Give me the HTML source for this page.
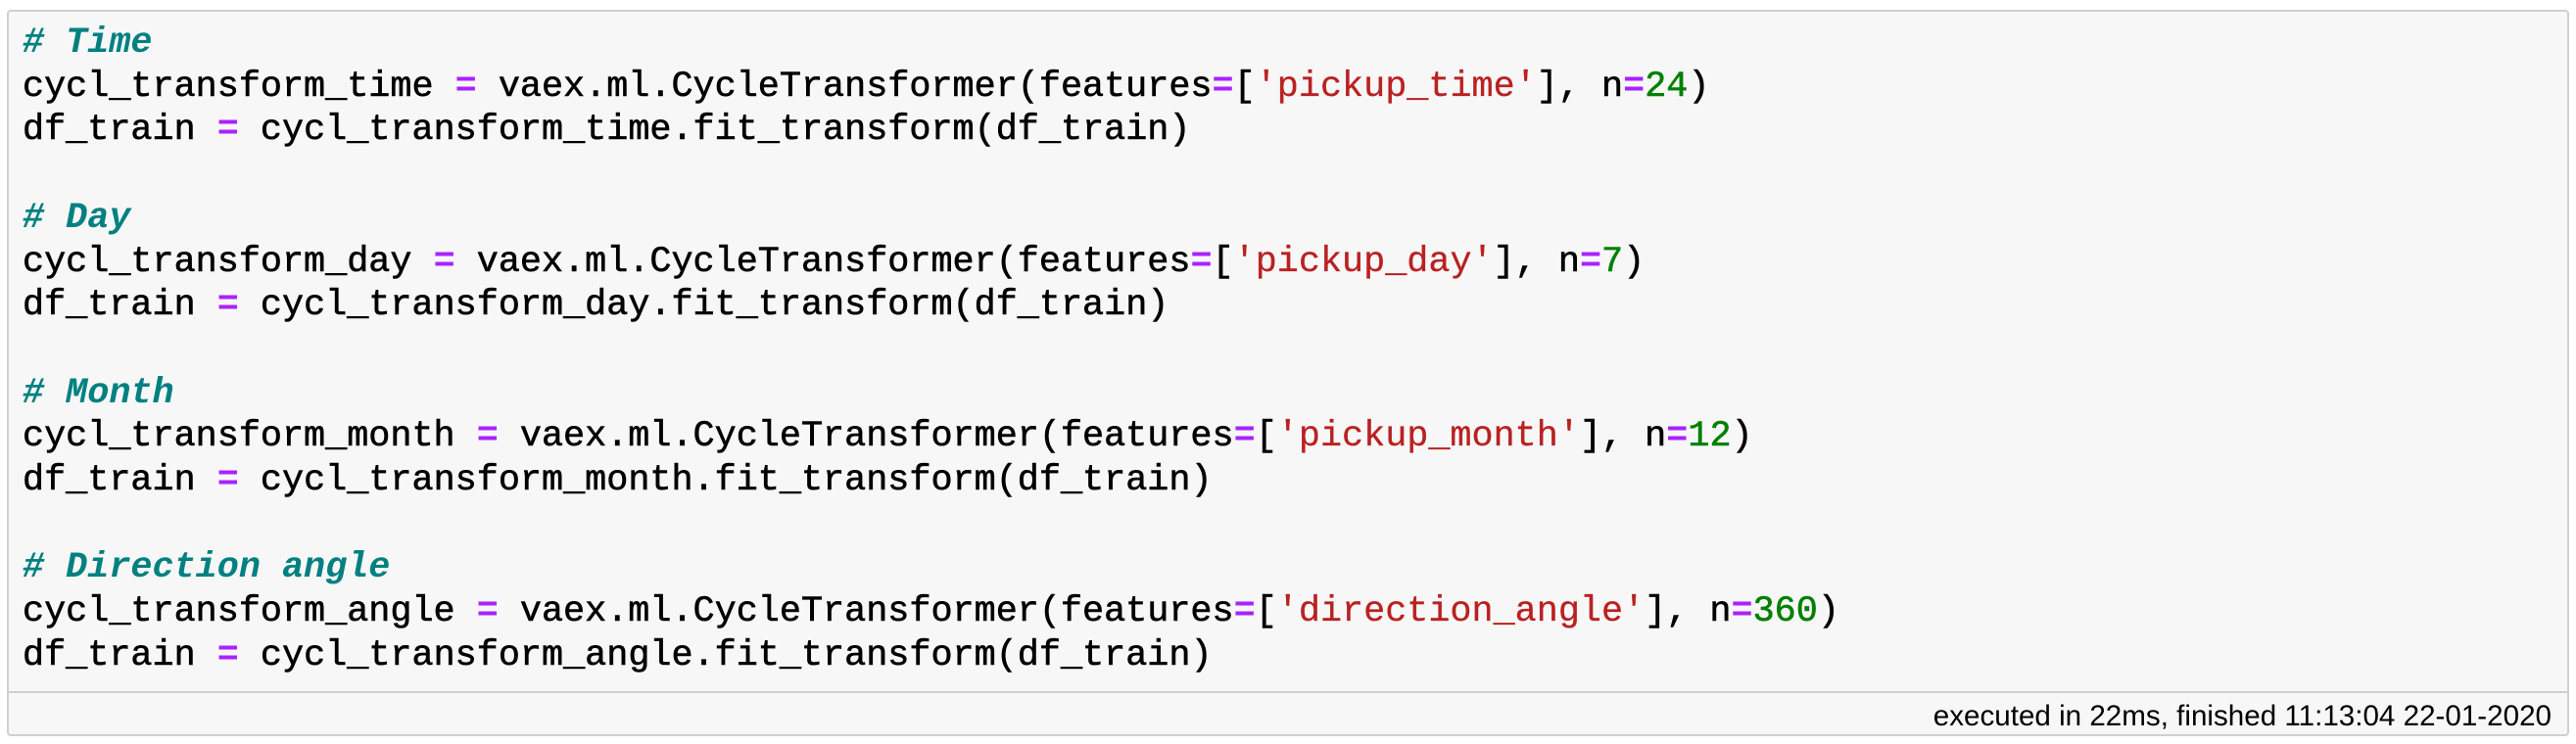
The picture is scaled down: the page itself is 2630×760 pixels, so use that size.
<!DOCTYPE html>
<html><head><style>
html,body{margin:0;padding:0;background:#fff;width:2630px;height:760px;overflow:hidden}
.box{position:absolute;left:7px;top:10px;width:2612px;height:738px;border:2px solid #cfcfcf;border-radius:4px;background:#f7f7f7}
pre{position:absolute;left:14px;top:10px;margin:0;font-family:"Liberation Mono",monospace;font-size:36.8px;line-height:44.7px;color:#000;font-weight:normal;-webkit-text-stroke:0.6px #000}
.c{color:#008080;font-style:italic;font-weight:bold;-webkit-text-stroke:0}
.o{color:#aa22ff;font-weight:bold;-webkit-text-stroke:0}
.s{color:#ba2121;-webkit-text-stroke:0.3px #ba2121}
.n{color:#008000;-webkit-text-stroke:0.6px #008000}
.sep{position:absolute;left:0;right:0;top:694px;border-top:2px solid #cfcfcf}
.foot{position:absolute;right:16px;top:703px;font-family:"Liberation Sans",sans-serif;font-size:29.6px;color:#000}
</style></head><body>
<div class="box">
<pre><span class="c"># Time</span>
cycl_transform_time <span class="o">=</span> vaex.ml.CycleTransformer(features<span class="o">=</span>[<span class="s">'pickup_time'</span>], n<span class="o">=</span><span class="n">24</span>)
df_train <span class="o">=</span> cycl_transform_time.fit_transform(df_train)

<span class="c"># Day</span>
cycl_transform_day <span class="o">=</span> vaex.ml.CycleTransformer(features<span class="o">=</span>[<span class="s">'pickup_day'</span>], n<span class="o">=</span><span class="n">7</span>)
df_train <span class="o">=</span> cycl_transform_day.fit_transform(df_train)

<span class="c"># Month</span>
cycl_transform_month <span class="o">=</span> vaex.ml.CycleTransformer(features<span class="o">=</span>[<span class="s">'pickup_month'</span>], n<span class="o">=</span><span class="n">12</span>)
df_train <span class="o">=</span> cycl_transform_month.fit_transform(df_train)

<span class="c"># Direction angle</span>
cycl_transform_angle <span class="o">=</span> vaex.ml.CycleTransformer(features<span class="o">=</span>[<span class="s">'direction_angle'</span>], n<span class="o">=</span><span class="n">360</span>)
df_train <span class="o">=</span> cycl_transform_angle.fit_transform(df_train)</pre>
<div class="sep"></div>
<div class="foot">executed in 22ms, finished 11:13:04 22-01-2020</div>
</div>
</body></html>
